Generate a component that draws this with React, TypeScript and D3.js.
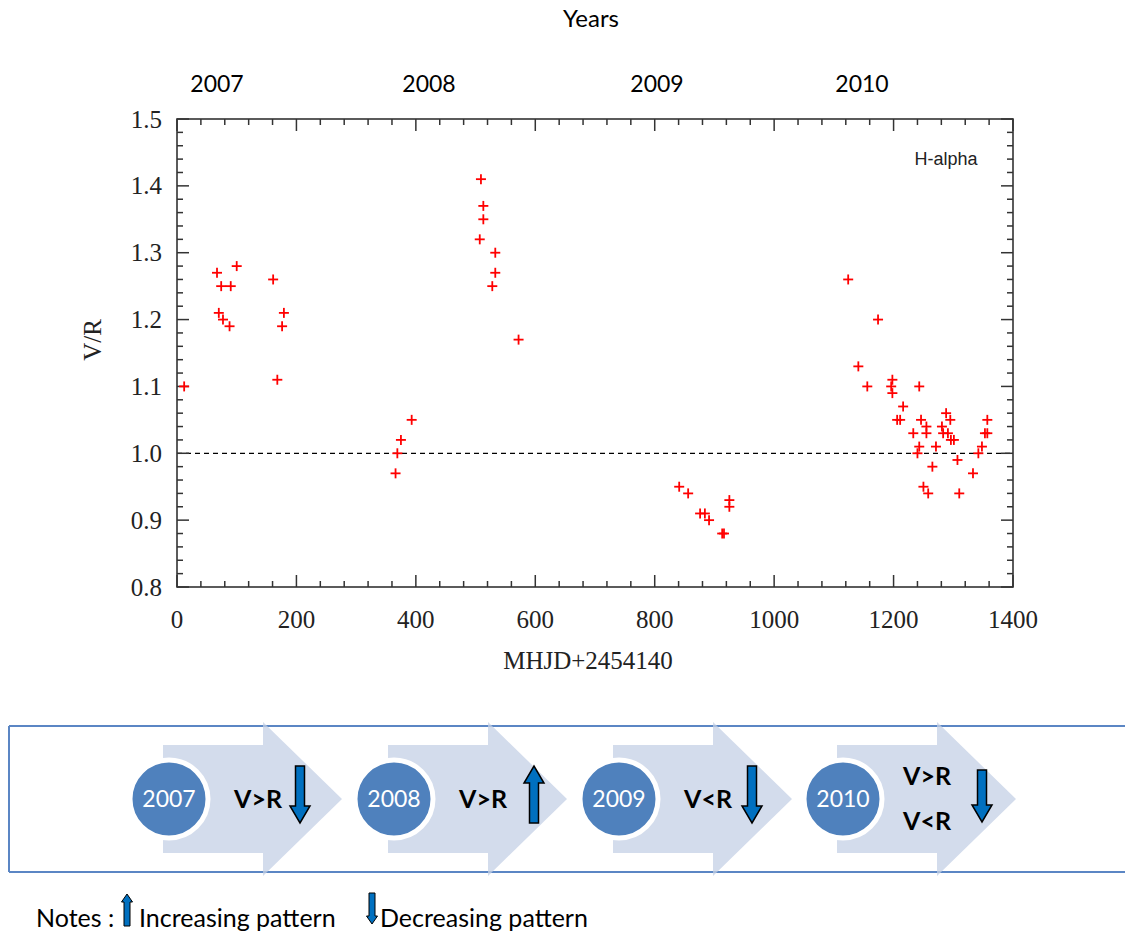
import React from "react";
import * as d3 from "d3";

// ---------- data ----------
const mhjd2007 = [12, 67, 100, 74, 90, 70, 77, 88, 161, 179, 176, 168];
const vr2007 = [1.10, 1.27, 1.28, 1.25, 1.25, 1.21, 1.20, 1.19, 1.26, 1.21, 1.19, 1.11];
const mhjd2008 = [366, 369, 375, 393, 507, 509, 513, 513, 528, 533, 533, 572];
const vr2008 = [0.97, 1.00, 1.02, 1.05, 1.32, 1.41, 1.37, 1.35, 1.25, 1.30, 1.27, 1.17];
const mhjd2009 = [841, 856, 876, 884, 891, 913, 916, 925, 925];
const vr2009 = [0.95, 0.94, 0.91, 0.91, 0.90, 0.88, 0.88, 0.93, 0.92];
const mhjd2010 = [1124, 1141, 1156, 1174, 1198, 1196, 1198, 1206, 1211, 1216, 1233, 1240, 1243, 1243, 1246, 1250, 1255, 1255, 1258, 1265, 1271, 1281, 1283, 1288, 1291, 1295, 1296, 1301, 1307, 1310, 1333, 1342, 1348, 1353, 1357, 1357];
const vr2010 = [1.26, 1.13, 1.10, 1.20, 1.11, 1.10, 1.09, 1.05, 1.05, 1.07, 1.03, 1.00, 1.01, 1.10, 1.05, 0.95, 1.04, 1.03, 0.94, 0.98, 1.01, 1.04, 1.03, 1.06, 1.03, 1.05, 1.02, 1.02, 0.99, 0.94, 0.97, 1.00, 1.01, 1.03, 1.03, 1.05];

const yearLabels = ["2007", "2008", "2009", "2010"];
const yearLabelX = [217, 429, 657, 862];
const stageYears = ["2007", "2008", "2009", "2010"];
const stageTexts = [["V>R"], ["V>R"], ["V<R"], ["V>R", "V<R"]];
const stageTrend = ["down", "up", "down", "down"];

const xTickLabels = ["0", "200", "400", "600", "800", "1000", "1200", "1400"];
const yTickLabels = ["0.8", "0.9", "1.0", "1.1", "1.2", "1.3", "1.4", "1.5"];

// ---------- layout ----------
const W = 1125, H = 934;
const PL = 177, PR = 1013, PT = 119, PB = 587;

function blockArrow(cx: number, top: number, bottom: number, dir: string, shaftW: number, headW: number, headL: number) {
  const hs = shaftW / 2, hh = headW / 2;
  if (dir === "down") {
    const hy = bottom - headL;
    return `M${cx - hs},${top}L${cx + hs},${top}L${cx + hs},${hy}L${cx + hh},${hy}L${cx},${bottom}L${cx - hh},${hy}L${cx - hs},${hy}Z`;
  }
  const hy = top + headL;
  return `M${cx - hs},${bottom}L${cx + hs},${bottom}L${cx + hs},${hy}L${cx + hh},${hy}L${cx},${top}L${cx - hh},${hy}L${cx - hs},${hy}Z`;
}

export default function App() {
  const x = d3.scaleLinear().domain([0, 1400]).range([PL, PR]);
  const y = d3.scaleLinear().domain([0.8, 1.5]).range([PB, PT]);

  const allPts: [number, number][] = [];
  [[mhjd2007, vr2007], [mhjd2008, vr2008], [mhjd2009, vr2009], [mhjd2010, vr2010]].forEach(([xs, ys]) => {
    xs.forEach((v, i) => allPts.push([v, ys[i]]));
  });

  const xMajor = d3.range(0, 1401, 200);
  const xMinor = d3.range(0, 1401, 40).filter((v) => v % 200 !== 0);
  const yMajor = d3.range(0, 8).map((i) => +(0.8 + i * 0.1).toFixed(2));
  const yMinor = d3.range(0, 36).map((i) => +(0.8 + i * 0.02).toFixed(3)).filter((v) => Math.abs(v * 10 - Math.round(v * 10)) > 1e-6);

  const axisColor = "#333";
  const serif = "'Liberation Serif', 'Times New Roman', serif";
  const sans = "Lato, 'Open Sans', sans-serif";
  const MJ = 12, MN = 6;
  const ps = 5;

  // diagram
  const cY = 799;
  const circleX = [169, 394, 619, 843];
  const boxTop = 726, boxBot = 872;

  return (
    <svg width={W} height={H} style={{ position: "absolute", left: 0, top: 0, background: "#fff" }}>
      {/* top texts */}
      <text x={591} y={27} textAnchor="middle" fontFamily={sans} fontSize={24} fill="#000">Years</text>
      {yearLabels.map((t, i) => (
        <text key={t} x={yearLabelX[i]} y={92} textAnchor="middle" fontFamily={sans} fontSize={23} fill="#000">{t}</text>
      ))}

      {/* dashed 1.0 line */}
      <line x1={PL} x2={PR} y1={y(1)} y2={y(1)} stroke="#000" strokeWidth={1.2} strokeDasharray="5,4" />

      {/* ticks */}
      {xMajor.map((v) => (
        <g key={"xm" + v}>
          <line x1={x(v)} x2={x(v)} y1={PB} y2={PB - MJ} stroke={axisColor} strokeWidth={1.5} />
          <line x1={x(v)} x2={x(v)} y1={PT} y2={PT + MJ} stroke={axisColor} strokeWidth={1.5} />
        </g>
      ))}
      {xMinor.map((v) => (
        <g key={"xn" + v}>
          <line x1={x(v)} x2={x(v)} y1={PB} y2={PB - MN} stroke={axisColor} strokeWidth={1.5} />
          <line x1={x(v)} x2={x(v)} y1={PT} y2={PT + MN} stroke={axisColor} strokeWidth={1.5} />
        </g>
      ))}
      {yMajor.map((v) => (
        <g key={"ym" + v}>
          <line x1={PL} x2={PL + MJ} y1={y(v)} y2={y(v)} stroke={axisColor} strokeWidth={1.5} />
          <line x1={PR} x2={PR - MJ} y1={y(v)} y2={y(v)} stroke={axisColor} strokeWidth={1.5} />
        </g>
      ))}
      {yMinor.map((v) => (
        <g key={"yn" + v}>
          <line x1={PL} x2={PL + MN} y1={y(v)} y2={y(v)} stroke={axisColor} strokeWidth={1.5} />
          <line x1={PR} x2={PR - MN} y1={y(v)} y2={y(v)} stroke={axisColor} strokeWidth={1.5} />
        </g>
      ))}
      <rect x={PL} y={PT} width={PR - PL} height={PB - PT} fill="none" stroke={axisColor} strokeWidth={1.6} />

      {/* tick labels */}
      {xMajor.map((v, i) => (
        <text key={"xl" + v} x={x(v)} y={628} textAnchor="middle" fontFamily={serif} fontSize={25} fill="#222">{xTickLabels[i]}</text>
      ))}
      {yMajor.map((v, i) => (
        <text key={"yl" + v} x={162} y={y(v) + 8.5} textAnchor="end" fontFamily={serif} fontSize={25} fill="#222">{yTickLabels[i]}</text>
      ))}
      <text x={588} y={669} textAnchor="middle" fontFamily={serif} fontSize={25} fill="#222">MHJD+2454140</text>
      <text transform={`translate(101,340) rotate(-90)`} textAnchor="middle" fontFamily={serif} fontSize={25} fill="#222">V/R</text>
      <text x={946} y={165} textAnchor="middle" fontFamily="'Liberation Sans', Arial, sans-serif" fontSize={18} fill="#222">H-alpha</text>

      {/* points */}
      {allPts.map(([a, b], i) => (
        <g key={"p" + i} stroke="#ff0000" strokeWidth={1.8}>
          <line x1={x(a) - ps} x2={x(a) + ps} y1={y(b)} y2={y(b)} />
          <line x1={x(a)} x2={x(a)} y1={y(b) - ps} y2={y(b) + ps} />
        </g>
      ))}

      {/* bottom diagram border */}
      <line x1={9} x2={1125} y1={boxTop} y2={boxTop} stroke="#5b86c4" strokeWidth={2} />
      <line x1={9} x2={1125} y1={boxBot} y2={boxBot} stroke="#5b86c4" strokeWidth={2} />
      <line x1={9} x2={9} y1={boxTop} y2={boxBot} stroke="#5b86c4" strokeWidth={2} />

      {circleX.map((cx, i) => {
        const bodyL = cx - 6, headS = cx + 94, tip = headS + 79;
        const bh = 54, hh = 77;
        const p = `M${bodyL},${cY - bh}L${headS},${cY - bh}L${headS},${cY - hh}L${tip},${cY}L${headS},${cY + hh}L${headS},${cY + bh}L${bodyL},${cY + bh}Z`;
        return <path key={"ar" + i} d={p} fill="#c4d0e6" fillOpacity={0.75} />;
      })}
      {circleX.map((cx, i) => (
        <g key={"st" + i}>
          <circle cx={cx} cy={cY} r={39} fill="#4f81bd" stroke="#fff" strokeWidth={5} />
          <text x={cx} y={cY + 8} textAnchor="middle" fontFamily={sans} fontSize={23} fill="#fff">{stageYears[i]}</text>
          {stageTexts[i].length === 1 ? (
            <text x={cx + 89} y={cY + 9} textAnchor="middle" fontFamily={sans} fontWeight="bold" fontSize={25} fill="#000">{stageTexts[i][0]}</text>
          ) : (
            <g>
              <text x={cx + 84} y={cY - 14} textAnchor="middle" fontFamily={sans} fontWeight="bold" fontSize={25} fill="#000">{stageTexts[i][0]}</text>
              <text x={cx + 84} y={cY + 31} textAnchor="middle" fontFamily={sans} fontWeight="bold" fontSize={25} fill="#000">{stageTexts[i][1]}</text>
            </g>
          )}
          <path
            d={i === 3 ? blockArrow(cx + 139, 770, 822, "down", 9, 20, 17) : blockArrow(cx + (i === 1 ? 140 : 131 + (i === 2 ? 2 : 0)), 766, 823, stageTrend[i], 9, 20, 17)}
            fill="#0070c0"
            stroke="#000"
            strokeWidth={1.5}
          />
        </g>
      ))}

      {/* notes */}
      <text x={36} y={927} fontFamily={sans} fontSize={25} fill="#000">Notes :</text>
      <path d={blockArrow(127, 894, 926, "up", 6, 11, 8)} fill="#0070c0" stroke="#000" strokeWidth={1} />
      <text x={139} y={927} fontFamily={sans} fontSize={25} fill="#000">Increasing pattern</text>
      <path d={blockArrow(372, 893, 924, "down", 6, 11, 8)} fill="#0070c0" stroke="#000" strokeWidth={1} />
      <text x={380} y={927} fontFamily={sans} fontSize={25} fill="#000">Decreasing pattern</text>
    </svg>
  );
}
